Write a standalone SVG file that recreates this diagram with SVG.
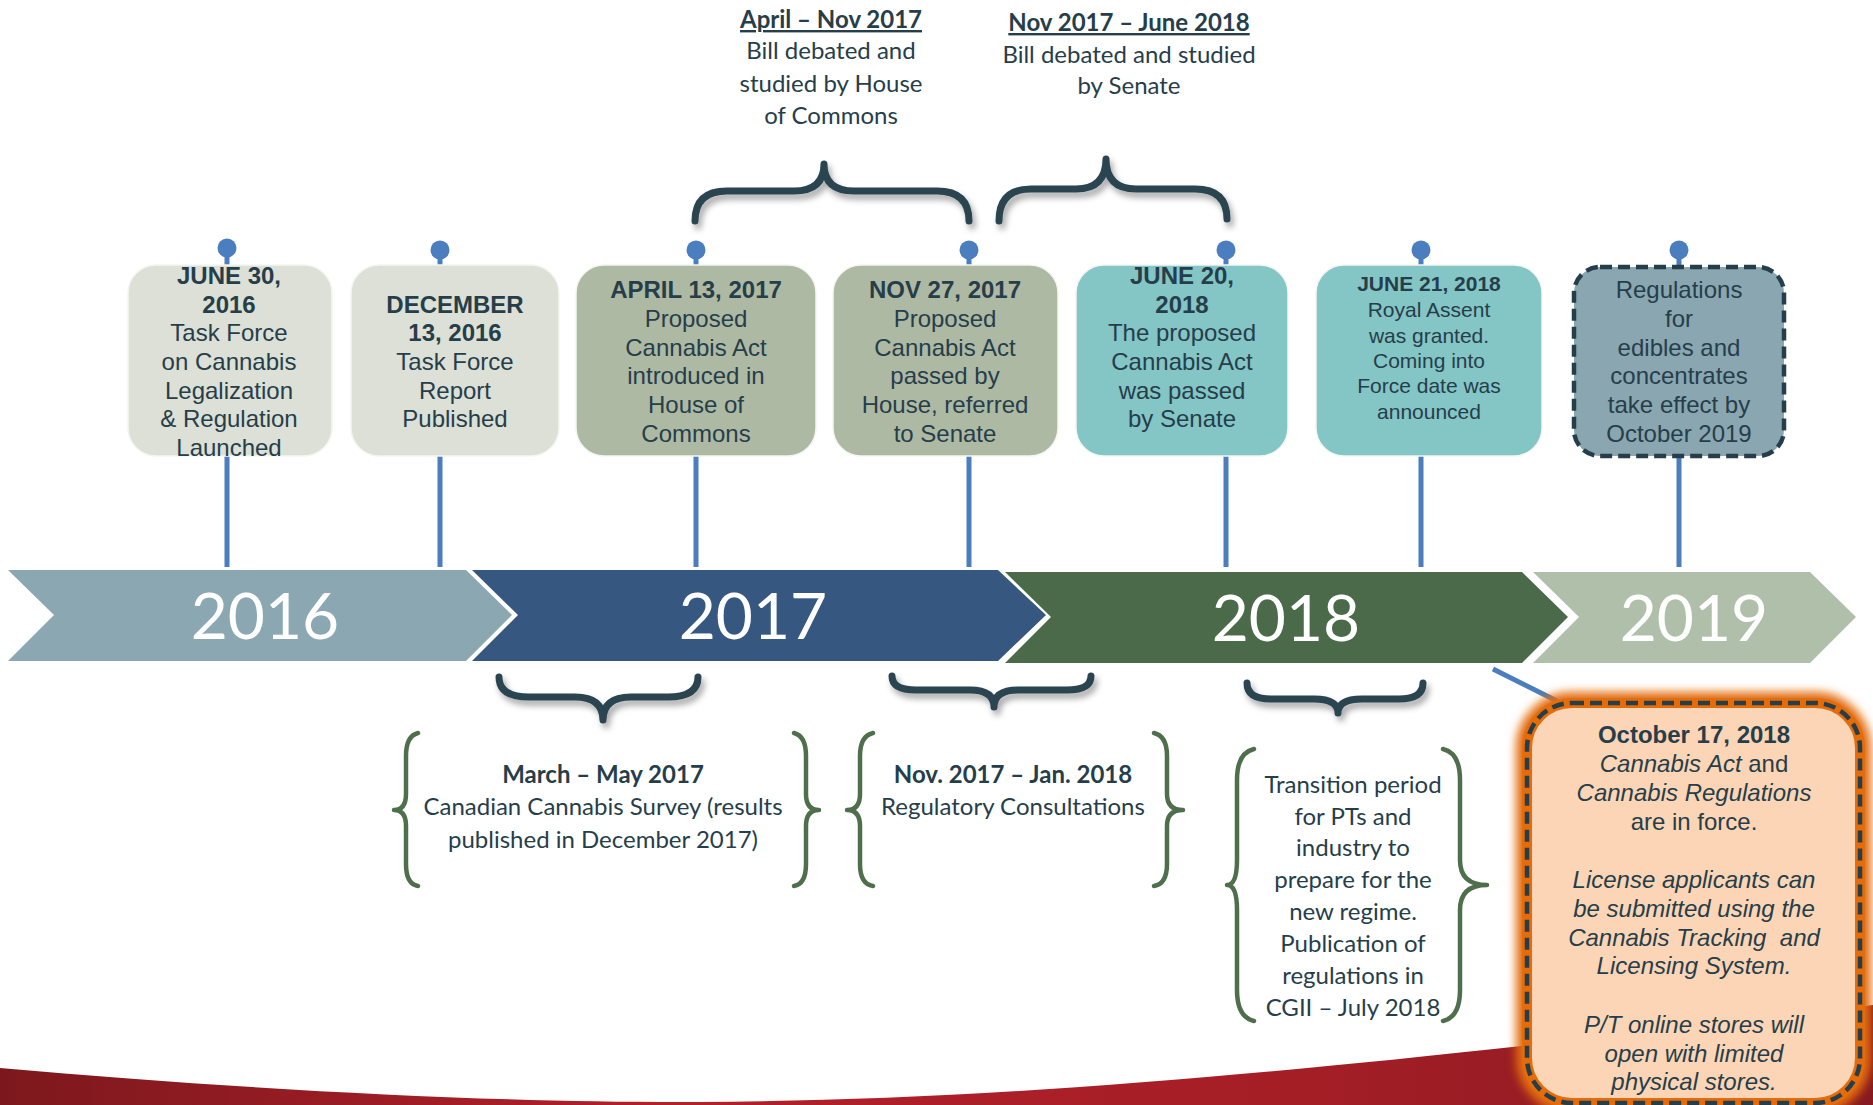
<svg xmlns="http://www.w3.org/2000/svg" width="1873" height="1105" viewBox="0 0 1873 1105">
<defs>
<style>
.bt{font-family:"Liberation Sans",Arial,sans-serif;font-size:24px;fill:#263E4A;text-anchor:middle}
.b{font-weight:bold}
.ct{font-family:Lato,"Open Sans",sans-serif;font-size:24px;fill:#263E4A;text-anchor:middle}
.yr{font-family:Lato,"Open Sans",sans-serif;font-size:64px;font-weight:400;fill:#FFFFFF;text-anchor:middle}
.pin{fill:#4A7EBE}
.stem{stroke:#4A7EBE;stroke-width:5;fill:none}
.dbr{fill:none;stroke:#2A4450;stroke-width:7;stroke-linecap:round;stroke-linejoin:round;filter:url(#sh)}
.gbr{fill:none;stroke:#4E6E4C;stroke-width:4.5;stroke-linecap:round;stroke-linejoin:round}
.box{stroke:#F4F6F1;stroke-width:1.5}
</style>
<filter id="sh" x="-20%" y="-50%" width="140%" height="220%">
<feDropShadow dx="3" dy="5" stdDeviation="3" flood-color="#000" flood-opacity="0.35"/>
</filter>
<filter id="glow" x="-15%" y="-15%" width="130%" height="130%">
<feGaussianBlur stdDeviation="5"/>
</filter>
<linearGradient id="red" x1="0" y1="0" x2="1" y2="0">
<stop offset="0" stop-color="#7C181D"/>
<stop offset="0.35" stop-color="#B3202A"/>
<stop offset="0.7" stop-color="#A41E26"/>
<stop offset="1" stop-color="#861A20"/>
</linearGradient>
</defs>
<rect width="1873" height="1105" fill="#FFFFFF"/>

<g id="red-band">
<path d="M0,1068 C250,1090 500,1103 700,1102 C1000,1100 1300,1075 1873,1005 L1873,1105 L0,1105 Z" fill="url(#red)"/>
</g>

<g id="connectors">
<line class="stem" x1="227" y1="250" x2="227" y2="567"/>
<line class="stem" x1="440" y1="250" x2="440" y2="567"/>
<line class="stem" x1="696" y1="250" x2="696" y2="567"/>
<line class="stem" x1="969" y1="250" x2="969" y2="567"/>
<line class="stem" x1="1226" y1="250" x2="1226" y2="567"/>
<line class="stem" x1="1421" y1="250" x2="1421" y2="567"/>
<line class="stem" x1="1679" y1="250" x2="1679" y2="567"/>
<circle class="pin" cx="227" cy="248" r="9.5"/>
<circle class="pin" cx="440" cy="250" r="9.5"/>
<circle class="pin" cx="696" cy="250" r="9.5"/>
<circle class="pin" cx="969" cy="250" r="9.5"/>
<circle class="pin" cx="1226" cy="250" r="9.5"/>
<circle class="pin" cx="1421" cy="250" r="9.5"/>
<circle class="pin" cx="1679" cy="250" r="9.5"/>
<line x1="1493" y1="669" x2="1557" y2="701" stroke="#4A7EBE" stroke-width="5"/>
</g>

<g id="timeline">
<polygon points="8,570 466,570 512,615 466,661 8,661 54,615" fill="#8BA7B2"/>
<polygon points="472,570 998,570 1046,615 998,661 472,661 518,615" fill="#36577F"/>
<polygon points="1005,572 1522,572 1568,617 1522,663 1005,663 1051,617" fill="#4A6A4A"/>
<polygon points="1533,572 1810,572 1856,617 1810,663 1533,663 1579,617" fill="#AFBFAA"/>
<text class="yr" x="265" y="639">2016</text>
<text class="yr" x="753" y="639">2017</text>
<text class="yr" x="1286" y="641">2018</text>
<text class="yr" x="1694" y="641">2019</text>
</g>

<g id="box-jun2016">
<rect class="box" x="128" y="265" width="204" height="191" rx="28" fill="#DCE0D6"/>
<text class="bt"><tspan class="b" x="229" y="284">JUNE 30,</tspan><tspan class="b" x="229" y="313">2016</tspan><tspan x="229" y="341">Task Force</tspan><tspan x="229" y="370">on Cannabis</tspan><tspan x="229" y="399">Legalization</tspan><tspan x="229" y="427">&amp; Regulation</tspan><tspan x="229" y="456">Launched</tspan></text>
</g>

<g id="box-dec2016">
<rect class="box" x="351" y="265" width="208" height="191" rx="28" fill="#DCE0D6"/>
<text class="bt"><tspan class="b" x="455" y="313">DECEMBER</tspan><tspan class="b" x="455" y="341">13, 2016</tspan><tspan x="455" y="370">Task Force</tspan><tspan x="455" y="399">Report</tspan><tspan x="455" y="427">Published</tspan></text>
</g>

<g id="box-apr2017">
<rect class="box" x="576" y="265" width="240" height="191" rx="28" fill="#AEB9A3"/>
<text class="bt"><tspan class="b" x="696" y="298">APRIL 13, 2017</tspan><tspan x="696" y="327">Proposed</tspan><tspan x="696" y="356">Cannabis Act</tspan><tspan x="696" y="384">introduced in</tspan><tspan x="696" y="413">House of</tspan><tspan x="696" y="442">Commons</tspan></text>
</g>

<g id="box-nov2017">
<rect class="box" x="833" y="265" width="225" height="191" rx="28" fill="#AEB9A3"/>
<text class="bt"><tspan class="b" x="945" y="298">NOV 27, 2017</tspan><tspan x="945" y="327">Proposed</tspan><tspan x="945" y="356">Cannabis Act</tspan><tspan x="945" y="384">passed by</tspan><tspan x="945" y="413">House, referred</tspan><tspan x="945" y="442">to Senate</tspan></text>
</g>

<g id="box-jun20-2018">
<rect class="box" x="1076" y="265" width="212" height="191" rx="28" fill="#84C5C6"/>
<text class="bt"><tspan class="b" x="1182" y="284">JUNE 20,</tspan><tspan class="b" x="1182" y="313">2018</tspan><tspan x="1182" y="341">The proposed</tspan><tspan x="1182" y="370">Cannabis Act</tspan><tspan x="1182" y="399">was passed</tspan><tspan x="1182" y="427">by Senate</tspan></text>
</g>

<g id="box-jun21-2018">
<rect class="box" x="1316" y="265" width="226" height="191" rx="28" fill="#84C5C6"/>
<text class="bt" style="font-size:21px"><tspan class="b" x="1429" y="291">JUNE 21, 2018</tspan><tspan x="1429" y="317">Royal Assent</tspan><tspan x="1429" y="343">was granted.</tspan><tspan x="1429" y="368">Coming into</tspan><tspan x="1429" y="393">Force date was</tspan><tspan x="1429" y="419">announced</tspan></text>
</g>

<g id="box-oct2019">
<rect x="1574" y="267" width="210" height="189" rx="26" fill="#8AA6B1" stroke="#263E4A" stroke-width="4.5" stroke-dasharray="12 6"/>
<text class="bt"><tspan x="1679" y="298">Regulations</tspan><tspan x="1679" y="327">for</tspan><tspan x="1679" y="356">edibles and</tspan><tspan x="1679" y="384">concentrates</tspan><tspan x="1679" y="413">take effect by</tspan><tspan x="1679" y="442">October 2019</tspan></text>
</g>

<g id="top-house">
<path class="dbr" d="M695,221 Q695,191 727,191 L794,191 Q824,191 824,164 Q824,191 854,191 L937,191 Q969,191 969,221"/>
<text class="ct"><tspan x="831" y="28" font-weight="bold" text-decoration="underline">April – Nov 2017</tspan><tspan x="831" y="59">Bill debated and</tspan><tspan x="831" y="92">studied by House</tspan><tspan x="831" y="124">of Commons</tspan></text>
</g>

<g id="top-senate">
<path class="dbr" d="M999,221 Q999,189 1031,189 L1076,189 Q1106,189 1106,159 Q1106,189 1136,189 L1195,189 Q1227,189 1227,219"/>
<text class="ct"><tspan x="1129" y="31" font-weight="bold" text-decoration="underline">Nov 2017 – June 2018</tspan><tspan x="1129" y="63">Bill debated and studied</tspan><tspan x="1129" y="94">by Senate</tspan></text>
</g>

<g id="survey">
<path class="dbr" d="M499,677 Q499,697 529,697 L575,697 Q603,697 603,720 Q603,697 631,697 L668,697 Q698,697 698,677"/>
<path class="gbr" d="M418,733 Q406,736 406,756 L406,794 Q406,810 394,810 Q406,810 406,826 L406,864 Q406,884 418,886"/>
<path class="gbr" d="M794,733 Q806,736 806,756 L806,794 Q806,810 819,810 Q806,810 806,826 L806,864 Q806,884 794,886"/>
<text class="ct"><tspan x="603" y="783" font-weight="bold">March – May 2017</tspan><tspan x="603" y="815">Canadian Cannabis Survey (results</tspan><tspan x="603" y="848">published in December 2017)</tspan></text>
</g>

<g id="consultations">
<path class="dbr" d="M892,676 Q892,690 916,690 L970,690 Q994,690 994,707 Q994,690 1018,690 L1067,690 Q1091,690 1091,676"/>
<path class="gbr" d="M873,733 Q860,736 860,756 L860,794 Q860,810 847,810 Q860,810 860,826 L860,864 Q860,884 873,886"/>
<path class="gbr" d="M1154,733 Q1167,736 1167,756 L1167,794 Q1167,810 1183,810 Q1167,810 1167,826 L1167,864 Q1167,884 1154,886"/>
<text class="ct"><tspan x="1013" y="783" font-weight="bold">Nov. 2017 – Jan. 2018</tspan><tspan x="1013" y="815">Regulatory Consultations</tspan></text>
</g>

<g id="transition">
<path class="dbr" d="M1247,683 Q1247,699 1271,699 L1314,699 Q1338,699 1338,713 Q1338,699 1362,699 L1399,699 Q1423,699 1423,683"/>
<path class="gbr" d="M1254,749 Q1237,753 1237,780 L1237,860 Q1237,885 1227,885 Q1237,885 1237,910 L1237,990 Q1237,1017 1254,1021"/>
<path class="gbr" d="M1443,749 Q1460,753 1460,780 L1460,860 Q1460,885 1487,885 Q1460,885 1460,910 L1460,990 Q1460,1017 1443,1021"/>
<text class="ct"><tspan x="1353" y="793">Transition period</tspan><tspan x="1353" y="825">for PTs and</tspan><tspan x="1353" y="856">industry to</tspan><tspan x="1353" y="888">prepare for the</tspan><tspan x="1353" y="920">new regime.</tspan><tspan x="1353" y="952">Publication of</tspan><tspan x="1353" y="984">regulations in</tspan><tspan x="1353" y="1016">CGII – July 2018</tspan></text>
</g>

<g id="box-oct2018">
<rect x="1527" y="703" width="333" height="400" rx="45" fill="none" stroke="#E46C0A" stroke-width="22" filter="url(#glow)"/>
<rect x="1527" y="703" width="333" height="400" rx="45" fill="#FBD5B5" stroke="#E46C0A" stroke-width="10"/>
<rect x="1527" y="703" width="333" height="400" rx="45" fill="none" stroke="#263E4A" stroke-width="4.5" stroke-dasharray="12 6"/>
<text class="bt"><tspan class="b" x="1694" y="743">October 17, 2018</tspan><tspan x="1694" y="772"><tspan font-style="italic">Cannabis Act</tspan> and</tspan><tspan x="1694" y="801" font-style="italic">Cannabis Regulations</tspan><tspan x="1694" y="830">are in force.</tspan><tspan x="1694" y="888" font-style="italic">License applicants can</tspan><tspan x="1694" y="917" font-style="italic">be submitted using the</tspan><tspan x="1694" y="946" font-style="italic">Cannabis Tracking&#160; and</tspan><tspan x="1694" y="974" font-style="italic">Licensing System.</tspan><tspan x="1694" y="1033" font-style="italic">P/T online stores will</tspan><tspan x="1694" y="1062" font-style="italic">open with limited</tspan><tspan x="1694" y="1090" font-style="italic">physical stores.</tspan></text>
</g>
</svg>
